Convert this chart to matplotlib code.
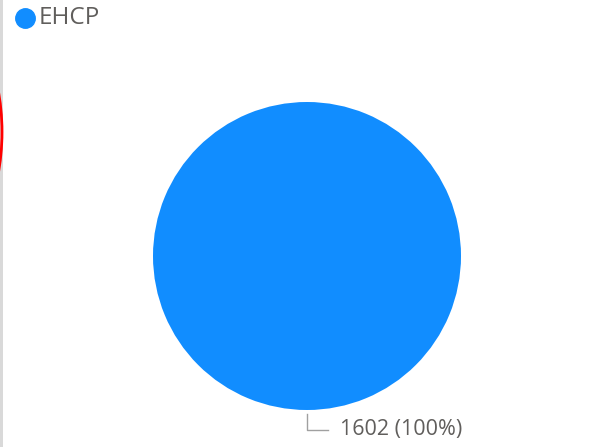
import matplotlib
matplotlib.use("Agg")
import matplotlib.pyplot as plt
from matplotlib.patches import Circle, Rectangle

plt.rcParams['font.family'] = ['Open Sans', 'DejaVu Sans']

# single category pie
labels = ["EHCP"]
values = [1602]
colors = ["#118DFF"]
text_color = "#605E5C"

W, H = 603, 447
fig = plt.figure(figsize=(W / 100, H / 100), dpi=100)
fig.patch.set_facecolor("white")

# pie axes: centre at (307, 256) px, radius 154 px
cx, cy, r = 307, 256, 154
ax = fig.add_axes([(cx - r) / W, (H - cy - r) / H, 2 * r / W, 2 * r / H])
ax.pie(values, colors=colors, startangle=90, counterclock=False,
       radius=1, wedgeprops=dict(linewidth=0))
ax.set_xlim(-1, 1)
ax.set_ylim(-1, 1)
ax.set_aspect("equal")
ax.axis("off")

# data label with leader line
total = sum(values)
pct = values[0] / total * 100
ax.plot([0, 0, 0.136], [-1.026, -1.13, -1.13], color="#A0A0A0",
        linewidth=1, clip_on=False)
ax.text(0.214, -1.128, f"{values[0]} ({pct:.0f}%)", color=text_color,
        fontsize=15.5, va="center", ha="left", clip_on=False)

# overlay in pixel coordinates for legend and edge decorations
overlay = fig.add_axes([0, 0, 1, 1], zorder=5)
overlay.set_xlim(0, W)
overlay.set_ylim(H, 0)
overlay.axis("off")

# legend
for i, (lab, col) in enumerate(zip(labels, colors)):
    overlay.plot([25], [18], marker="o", markersize=14, color=col,
                 linestyle="", clip_on=False)
    overlay.text(39, 18, lab, color=text_color, fontsize=17.5,
                 va="center", ha="left")

# left edge strip and partial outline
overlay.add_patch(Rectangle((0, 0), 3, H, facecolor="#D9D9D9",
                            edgecolor="none", clip_on=False))
overlay.add_patch(Circle((-229, 132), 231, fill=False, edgecolor="#FF0000",
                         linewidth=2, clip_on=False))

fig.savefig("out.png", dpi=100, facecolor="white")
